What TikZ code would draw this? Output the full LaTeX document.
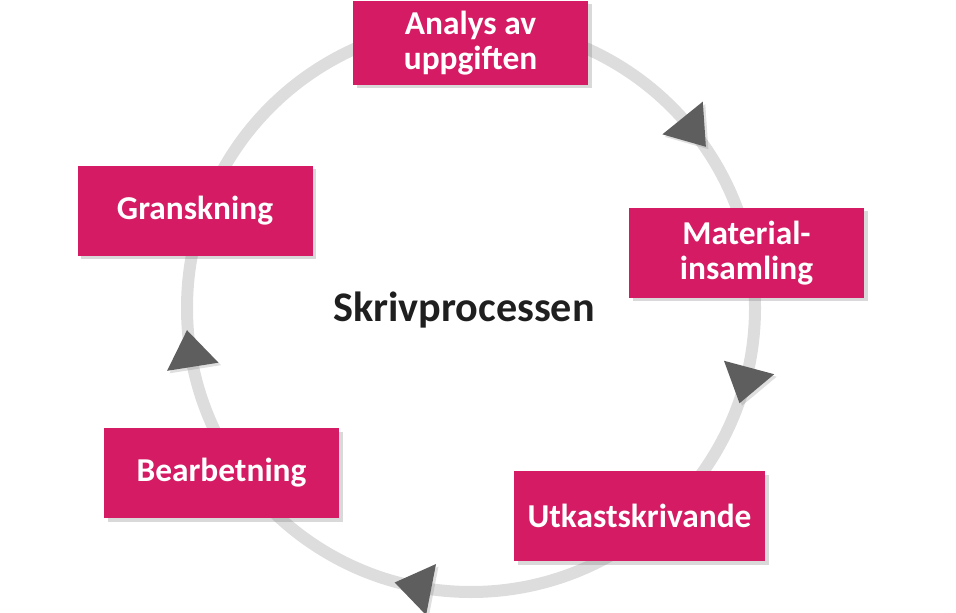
\documentclass[tikz,border=0pt]{standalone}
\usepackage{fontspec}
\setmainfont{Carlito}
\usepackage{tikz}
\usetikzlibrary{shapes,shadows,calc}
\definecolor{stepred}{HTML}{D41B63}
\definecolor{ringgray}{HTML}{DDDDDD}
\definecolor{tipgray}{HTML}{5E5E5E}
\tikzstyle{ring} = [line width=0.24cm, draw=ringgray]
\tikzstyle{stepbox} = [fill=stepred, text=white, font=\fontsize{19}{19.5}\selectfont\bfseries, align=center, minimum width=4.7cm, minimum height=1.8cm, inner sep=0pt, drop shadow={shadow xshift=0.07cm, shadow yshift=-0.07cm, opacity=0.3}]
\tikzstyle{ringtip} = [fill=tipgray, drop shadow={shadow xshift=0.05cm, shadow yshift=-0.05cm, opacity=0.25}]

\begin{document}
\begin{tikzpicture}
\useasboundingbox (0,0) rectangle (19.12,12.24);
\coordinate (c) at (9.42,6.08);
\draw[ring] (c) circle (5.68);

% arrow tips on the ring, clockwise
\foreach \ang in {39,-15,-101,189}{
\begin{scope}[shift={(c)}, rotate=\ang]
\path[ringtip] (5.68,-0.45) -- (5.16,0.29) -- (6.20,0.29) -- cycle;
\end{scope}
}

\node[stepbox, minimum height=1.68cm] at (9.41,11.38) (analys) {Analys av\\uppgiften};
\node[stepbox] at (14.93,7.18) (material) {Material-\\insamling};
\node[stepbox, minimum width=5.02cm] at (12.79,1.92) (utkast) {Utkastskrivande};
\node[stepbox] at (4.43,2.78) (bearb) {Bearbetning};
\node[stepbox] at (3.90,8.02) (gransk) {Granskning};

\node[font=\fontsize{24}{26}\selectfont\bfseries, text=black!88] at (9.28,6.04) (title) {Skrivprocessen};
\end{tikzpicture}
\end{document}
